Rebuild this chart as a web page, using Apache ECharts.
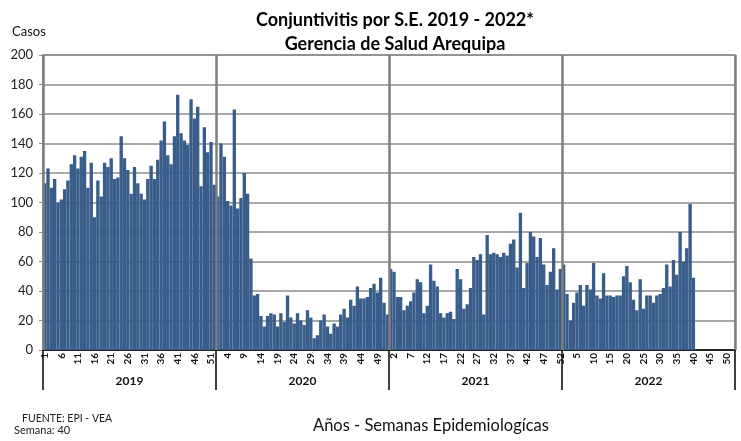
<!DOCTYPE html>
<html>
<head>
<meta charset="utf-8">
<script src="https://cdn.jsdelivr.net/npm/echarts@6/dist/echarts.min.js"></script>
<style>
  html, body { margin: 0; padding: 0; background: #fff; }
  #chart-box { width: 741px; height: 441px; }
</style>
</head>
<body>
<div id="chart-box"></div>
<script>
// casos por semana epidemiologica
const years = ['2019', '2020', '2021', '2022']
const weeksPerYear = 52
const cases2019 = [113, 123, 110, 116, 100, 102, 109, 115, 126, 132, 123, 131, 135, 110, 127, 90, 115, 104, 127, 124,
    130, 116, 117, 145, 130, 122, 106, 124, 113, 106, 102, 116, 125, 116, 129, 142, 155, 132, 126, 145,
    173, 147, 142, 139, 170, 157, 165, 111, 151, 134, 141, 112]
const cases2020 = [104, 140, 131, 101, 98, 163, 96, 103, 120, 106, 62, 37, 38, 23, 16, 23, 25, 24, 16, 25,
    19, 37, 22, 18, 25, 20, 17, 27, 22, 8, 10, 20, 24, 16, 11, 18, 16, 24, 28, 22,
    34, 30, 43, 35, 35, 36, 42, 45, 39, 49, 32, 24]
const cases2021 = [55, 53, 36, 36, 27, 30, 33, 39, 48, 46, 25, 30, 58, 47, 43, 25, 22, 25, 26, 21,
    55, 48, 28, 31, 42, 63, 61, 65, 24, 78, 65, 66, 65, 63, 66, 64, 72, 75, 56, 93,
    42, 59, 80, 77, 63, 76, 58, 44, 53, 69, 41, 55]
const cases2022 = [58, 38, 20, 32, 39, 44, 30, 44, 41, 59, 37, 35, 52, 37, 37, 36, 37, 37, 50, 57,
    46, 34, 27, 48, 28, 37, 37, 32, 37, 38, 42, 58, 43, 61, 51, 80, 60, 69, 99, 49]

const weekLabels = []
years.forEach(function () {
    for (let w = 1; w <= weeksPerYear; w++) weekLabels.push(String(w))
})
const values = cases2019.concat(cases2020, cases2021, cases2022)

const chart = echarts.init(document.getElementById('chart-box'))
const font = 'Lato, "Open Sans", sans-serif'
const option = {
    animation: false,
    textStyle: {fontFamily: font},
    title: {
        text: 'Conjuntivitis por S.E. 2019 - 2022*\nGerencia de Salud Arequipa',
        left: 390,
        top: 3,
        textAlign: 'center',
        textStyle: {fontFamily: font, fontSize: 18, fontWeight: 'bold', color: '#000', lineHeight: 24}
    },
    grid: {
        left: 43, right: 6, top: 55, bottom: 91,
        show: true, borderColor: '#8c8c8c', borderWidth: 1.5
    },
    xAxis: [
        {
            type: 'category',
            data: weekLabels,
            boundaryGap: true,
            axisLine: {lineStyle: {color: '#000', width: 1.5}},
            axisTick: {show: false},
            axisLabel: {interval: 4, rotate: 90, margin: 3, fontSize: 10, fontWeight: 'bold', color: '#111'},
            splitLine: {show: false}
        },
        {
            // eje de años: divisiones entre años
            type: 'category',
            data: years,
            position: 'bottom',
            boundaryGap: true,
            z: 5,
            axisLine: {show: false},
            axisTick: {show: true, interval: 0, length: 40, lineStyle: {color: '#000', width: 1.5}},
            axisLabel: {interval: 0, margin: 25, fontSize: 12, fontWeight: 'bold', color: '#111'},
            splitLine: {show: true, interval: 0, lineStyle: {color: '#7f7f7f', width: 2.5}}
        }
    ],
    yAxis: {
        type: 'value',
        min: 0, max: 200, interval: 20,
        axisLine: {show: true, lineStyle: {color: '#8c8c8c', width: 1.5}},
        axisTick: {show: true, length: 4, lineStyle: {color: '#8c8c8c'}},
        axisLabel: {fontSize: 13, color: '#222', margin: 10},
        splitLine: {lineStyle: {color: '#8c8c8c', width: 1.5}}
    },
    graphic: [
        {type: 'text', left: 12, top: 25, style: {text: 'Casos', font: '13px ' + font, fill: '#111'}},
        {type: 'text', left: 22, top: 413, style: {text: 'FUENTE: EPI - VEA', font: '10.5px ' + font, fill: '#222'}},
        {type: 'text', left: 14, top: 425, style: {text: 'Semana: 40', font: '11px ' + font, fill: '#222'}},
        {type: 'text', left: 313, top: 417, style: {text: 'Años - Semanas Epidemiologícas', font: '16.5px ' + font, fill: '#111'}}
    ],
    series: [
        {
            type: 'bar',
            data: values,
            xAxisIndex: 0,
            barCategoryGap: '0%',
            itemStyle: {color: '#385d8a', borderColor: '#385d8a', borderWidth: 1.3}
        }
    ]
}
chart.setOption(option)
</script>
</body>
</html>
